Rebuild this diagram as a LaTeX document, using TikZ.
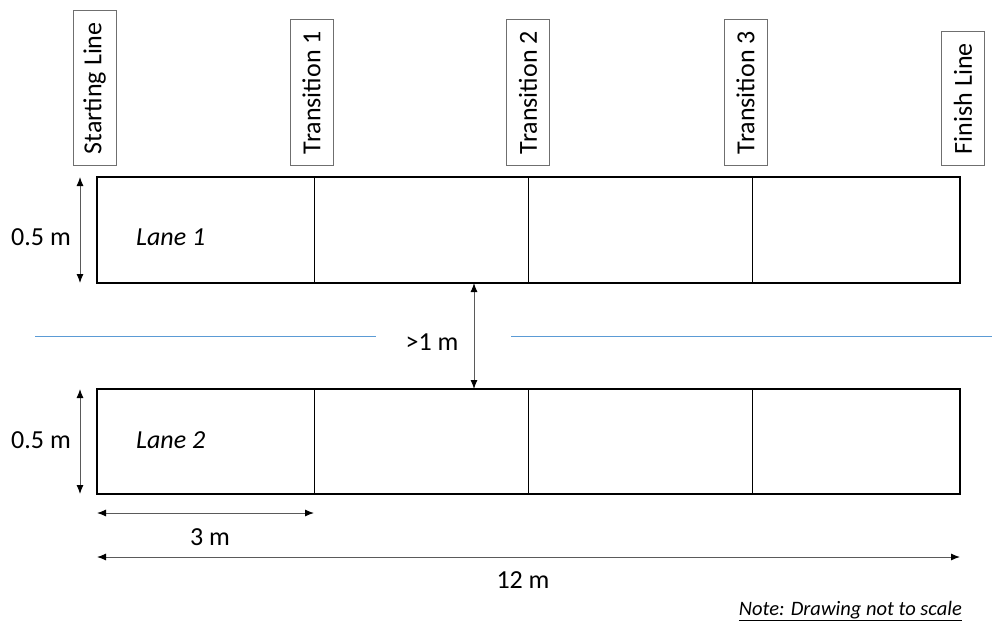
\documentclass[tikz,border=0pt]{standalone}
\usepackage{fontspec}
\setmainfont{Carlito}
\usetikzlibrary{arrows.meta}
\definecolor{refblue}{HTML}{5B9BD5}
\definecolor{boxgray}{HTML}{6F6F6F}
\definecolor{arrgray}{HTML}{5A5A5A}
\tikzset{
  lanebox/.style={line width=2.5pt, draw=black},
  divider/.style={line width=1pt, draw=black},
  tag/.style={draw=boxgray, line width=1pt, rotate=90, anchor=west, inner xsep=11.5pt, inner ysep=0pt, minimum height=43pt, font=\fontsize{26}{30}\selectfont},
  dim/.style={draw=arrgray, line width=1pt, {Latex[length=9pt,width=7pt,color=black]}-{Latex[length=9pt,width=7pt,color=black]}},
  lbl/.style={font=\fontsize{26}{30}\selectfont, inner sep=0pt},
  lanelbl/.style={font=\fontsize{26}{30}\selectfont\itshape, inner sep=0pt, anchor=west},
  sep/.style={draw=refblue, line width=1pt}
}
\begin{document}
\begin{tikzpicture}[x=1pt,y=-1pt]
\useasboundingbox (0,0) rectangle (992,622);
% label boxes
\node[tag] (start) at (94.5,166) {Starting Line};
\node[tag] (t1) at (311.5,166) {Transition 1};
\node[tag] (t2) at (528,166) {Transition 2};
\node[tag] (t3) at (745.5,166) {Transition 3};
\node[tag] (fin) at (963,166) {Finish Line};
% lane corners
\coordinate (a1) at (97,177); \coordinate (b1) at (960,283);
\coordinate (a2) at (97,389); \coordinate (b2) at (960,494);
% dividers
\foreach \x in {314,528,752}{
  \draw[divider] (\x,177) -- (\x,283);
  \draw[divider] (\x,389) -- (\x,494);
}
\draw[lanebox] (a1) rectangle (b1);
\draw[lanebox] (a2) rectangle (b2);
% lane labels
\node[lanelbl] (lane1) at (136,237) {Lane 1};
\node[lanelbl] (lane2) at (136,440) {Lane 2};
% left dimension arrows
\coordinate (h1t) at (80,177); \coordinate (h1b) at (80,283);
\coordinate (h2t) at (80,389); \coordinate (h2b) at (80,494);
\draw[dim] (h1t) -- (h1b);
\draw[dim] (h2t) -- (h2b);
\node[lbl] (d1) at (41,237) {0.5 m};
\node[lbl] (d2) at (41,440) {0.5 m};
% gap
\coordinate (gt) at (474,283); \coordinate (gb) at (474,389);
\draw[dim] (gt) -- (gb);
\node[lbl] (gap) at (432,342) {>1 m};
% blue separator
\coordinate (s1) at (35,336); \coordinate (s2) at (376,336);
\coordinate (s3) at (511,336); \coordinate (s4) at (992,336);
\draw[sep] (s1) -- (s2);
\draw[sep] (s3) -- (s4);
% bottom dimensions
\coordinate (w3a) at (97,513); \coordinate (w3b) at (314,513);
\draw[dim] (w3a) -- (w3b);
\node[lbl] (d3) at (210,537) {3 m};
\coordinate (w12a) at (97,557); \coordinate (w12b) at (960,557);
\draw[dim] (w12a) -- (w12b);
\node[lbl] (d12) at (523,580) {12 m};
% note
\node[font=\fontsize{20.5}{24}\selectfont\itshape, inner sep=0pt, anchor=east] (note) at (962,611) {\underline{Note: Drawing not to scale}};
\end{tikzpicture}
\end{document}
